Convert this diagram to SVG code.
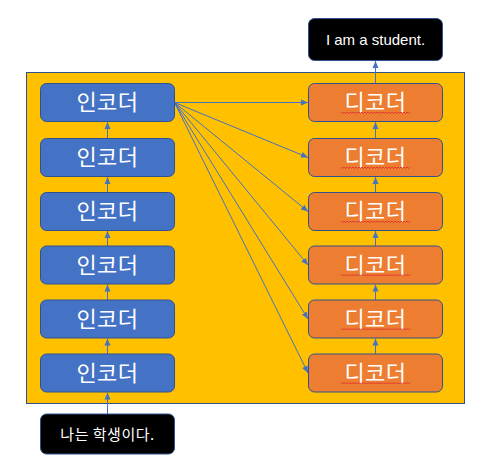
<svg xmlns="http://www.w3.org/2000/svg" width="485" height="472" viewBox="0 0 485 472">
<style>
.enc{fill:#4472C4;stroke:#2F528F;stroke-width:1}
.dec{fill:#ED7D31;stroke:#2F528F;stroke-width:1}
.blk{fill:#000;stroke:#2F528F;stroke-width:1}
.lbl{font-family:"Noto Sans CJK KR","Noto Sans",sans-serif;font-size:22px;fill:#fff;text-anchor:middle;letter-spacing:0.5px}
.sm{font-family:"Liberation Sans","Noto Sans CJK KR",sans-serif;font-size:15px;fill:#fff;text-anchor:middle}
.smk{font-family:"Noto Sans CJK KR","Noto Sans",sans-serif;font-size:15px;fill:#fff;text-anchor:middle;letter-spacing:0.5px}
.ln{stroke:#4472C4;stroke-width:1;fill:none;marker-end:url(#ah)}
.sq{stroke:#E03030;stroke-width:0.9;fill:none}
</style>
<defs>
<marker id="ah" markerUnits="userSpaceOnUse" markerWidth="8" markerHeight="8" viewBox="0 0 8 8" refX="7" refY="4" orient="auto">
<path d="M0,1 L7,4 L0,7 z" fill="#4472C4"/>
</marker>
<path id="wave" d="M0,0 l1.5,1.5 l1.5,-1.5 l1.5,1.5 l1.5,-1.5 l1.5,1.5 l1.5,-1.5 l1.5,1.5 l1.5,-1.5 l1.5,1.5 l1.5,-1.5 l1.5,1.5 l1.5,-1.5 l1.5,1.5 l1.5,-1.5 l1.5,1.5 l1.5,-1.5 l1.5,1.5 l1.5,-1.5 l1.5,1.5 l1.5,-1.5 l1.5,1.5 l1.5,-1.5 l1.5,1.5 l1.5,-1.5 l1.5,1.5 l1.5,-1.5 l1.5,1.5 l1.5,-1.5 l1.5,1.5 l1.5,-1.5 l1.5,1.5 l1.5,-1.5 l1.5,1.5 l1.5,-1.5 l1.5,1.5 l1.5,-1.5 l1.5,1.5 l1.5,-1.5 l1.5,1.5 l1.5,-1.5 l1.5,1.5 l1.5,-1.5 l1.5,1.5 l1.5,-1.5 l1.5,1.5 l1.5,-1.5"/>
</defs>
<g id="container">
<rect x="26.5" y="72.5" width="438" height="331" fill="#FFC000" stroke="#2F528F" stroke-width="1"/>
</g>
<g id="connectors">
<line class="ln" x1="107.5" y1="414" x2="107.5" y2="392.5"/>
<line class="ln" x1="107.5" y1="354" x2="107.5" y2="338.5"/>
<line class="ln" x1="107.5" y1="300" x2="107.5" y2="284.5"/>
<line class="ln" x1="107.5" y1="246" x2="107.5" y2="231"/>
<line class="ln" x1="107.5" y1="192.5" x2="107.5" y2="177"/>
<line class="ln" x1="107.5" y1="138.5" x2="107.5" y2="122"/>
<line class="ln" x1="375.5" y1="354" x2="375.5" y2="338.5"/>
<line class="ln" x1="375.5" y1="300" x2="375.5" y2="284.5"/>
<line class="ln" x1="375.5" y1="246" x2="375.5" y2="231"/>
<line class="ln" x1="375.5" y1="192.5" x2="375.5" y2="177"/>
<line class="ln" x1="375.5" y1="138.5" x2="375.5" y2="122"/>
<line class="ln" x1="375.5" y1="83.5" x2="375.5" y2="61"/>
<line class="ln" x1="174.5" y1="102.5" x2="308" y2="102.5"/>
<line class="ln" x1="174.5" y1="102.5" x2="308" y2="157.5"/>
<line class="ln" x1="174.5" y1="102.5" x2="308" y2="211.5"/>
<line class="ln" x1="174.5" y1="102.5" x2="308" y2="265"/>
<line class="ln" x1="174.5" y1="102.5" x2="308" y2="319"/>
<line class="ln" x1="174.5" y1="102.5" x2="308" y2="373"/>
</g>
<g id="output">
<rect class="blk" x="308.5" y="18.5" width="134" height="42" rx="6"/>
<text class="sm" x="375.5" y="45">I am a student.</text>
</g>
<g id="input">
<rect class="blk" x="40.5" y="414" width="134" height="40" rx="6"/>
<text class="smk" x="107.5" y="439.5">나는 학생이다.</text>
</g>
<g id="enc1"><rect class="enc" x="40.5" y="83.5" width="134" height="38" rx="6"/><text class="lbl" x="107.5" y="110">인코더</text></g>
<g id="enc2"><rect class="enc" x="40.5" y="138.5" width="134" height="38" rx="6"/><text class="lbl" x="107.5" y="165">인코더</text></g>
<g id="enc3"><rect class="enc" x="40.5" y="192.5" width="134" height="38" rx="6"/><text class="lbl" x="107.5" y="219">인코더</text></g>
<g id="enc4"><rect class="enc" x="40.5" y="246" width="134" height="38" rx="6"/><text class="lbl" x="107.5" y="272.5">인코더</text></g>
<g id="enc5"><rect class="enc" x="40.5" y="300" width="134" height="38" rx="6"/><text class="lbl" x="107.5" y="326.5">인코더</text></g>
<g id="enc6"><rect class="enc" x="40.5" y="354" width="134" height="38" rx="6"/><text class="lbl" x="107.5" y="380.5">인코더</text></g>
<g id="dec1"><rect class="dec" x="308.5" y="83.5" width="134" height="38" rx="6"/><text class="lbl" x="375.5" y="110">디코더</text><use href="#wave" class="sq" x="341" y="112"/></g>
<g id="dec2"><rect class="dec" x="308.5" y="138.5" width="134" height="38" rx="6"/><text class="lbl" x="375.5" y="165">디코더</text><use href="#wave" class="sq" x="341" y="167"/></g>
<g id="dec3"><rect class="dec" x="308.5" y="192.5" width="134" height="38" rx="6"/><text class="lbl" x="375.5" y="219">디코더</text><use href="#wave" class="sq" x="341" y="221"/></g>
<g id="dec4"><rect class="dec" x="308.5" y="246" width="134" height="38" rx="6"/><text class="lbl" x="375.5" y="272.5">디코더</text><use href="#wave" class="sq" x="341" y="274.5"/></g>
<g id="dec5"><rect class="dec" x="308.5" y="300" width="134" height="38" rx="6"/><text class="lbl" x="375.5" y="326.5">디코더</text><use href="#wave" class="sq" x="341" y="328.5"/></g>
<g id="dec6"><rect class="dec" x="308.5" y="354" width="134" height="38" rx="6"/><text class="lbl" x="375.5" y="380.5">디코더</text><use href="#wave" class="sq" x="341" y="382.5"/></g>
</svg>
